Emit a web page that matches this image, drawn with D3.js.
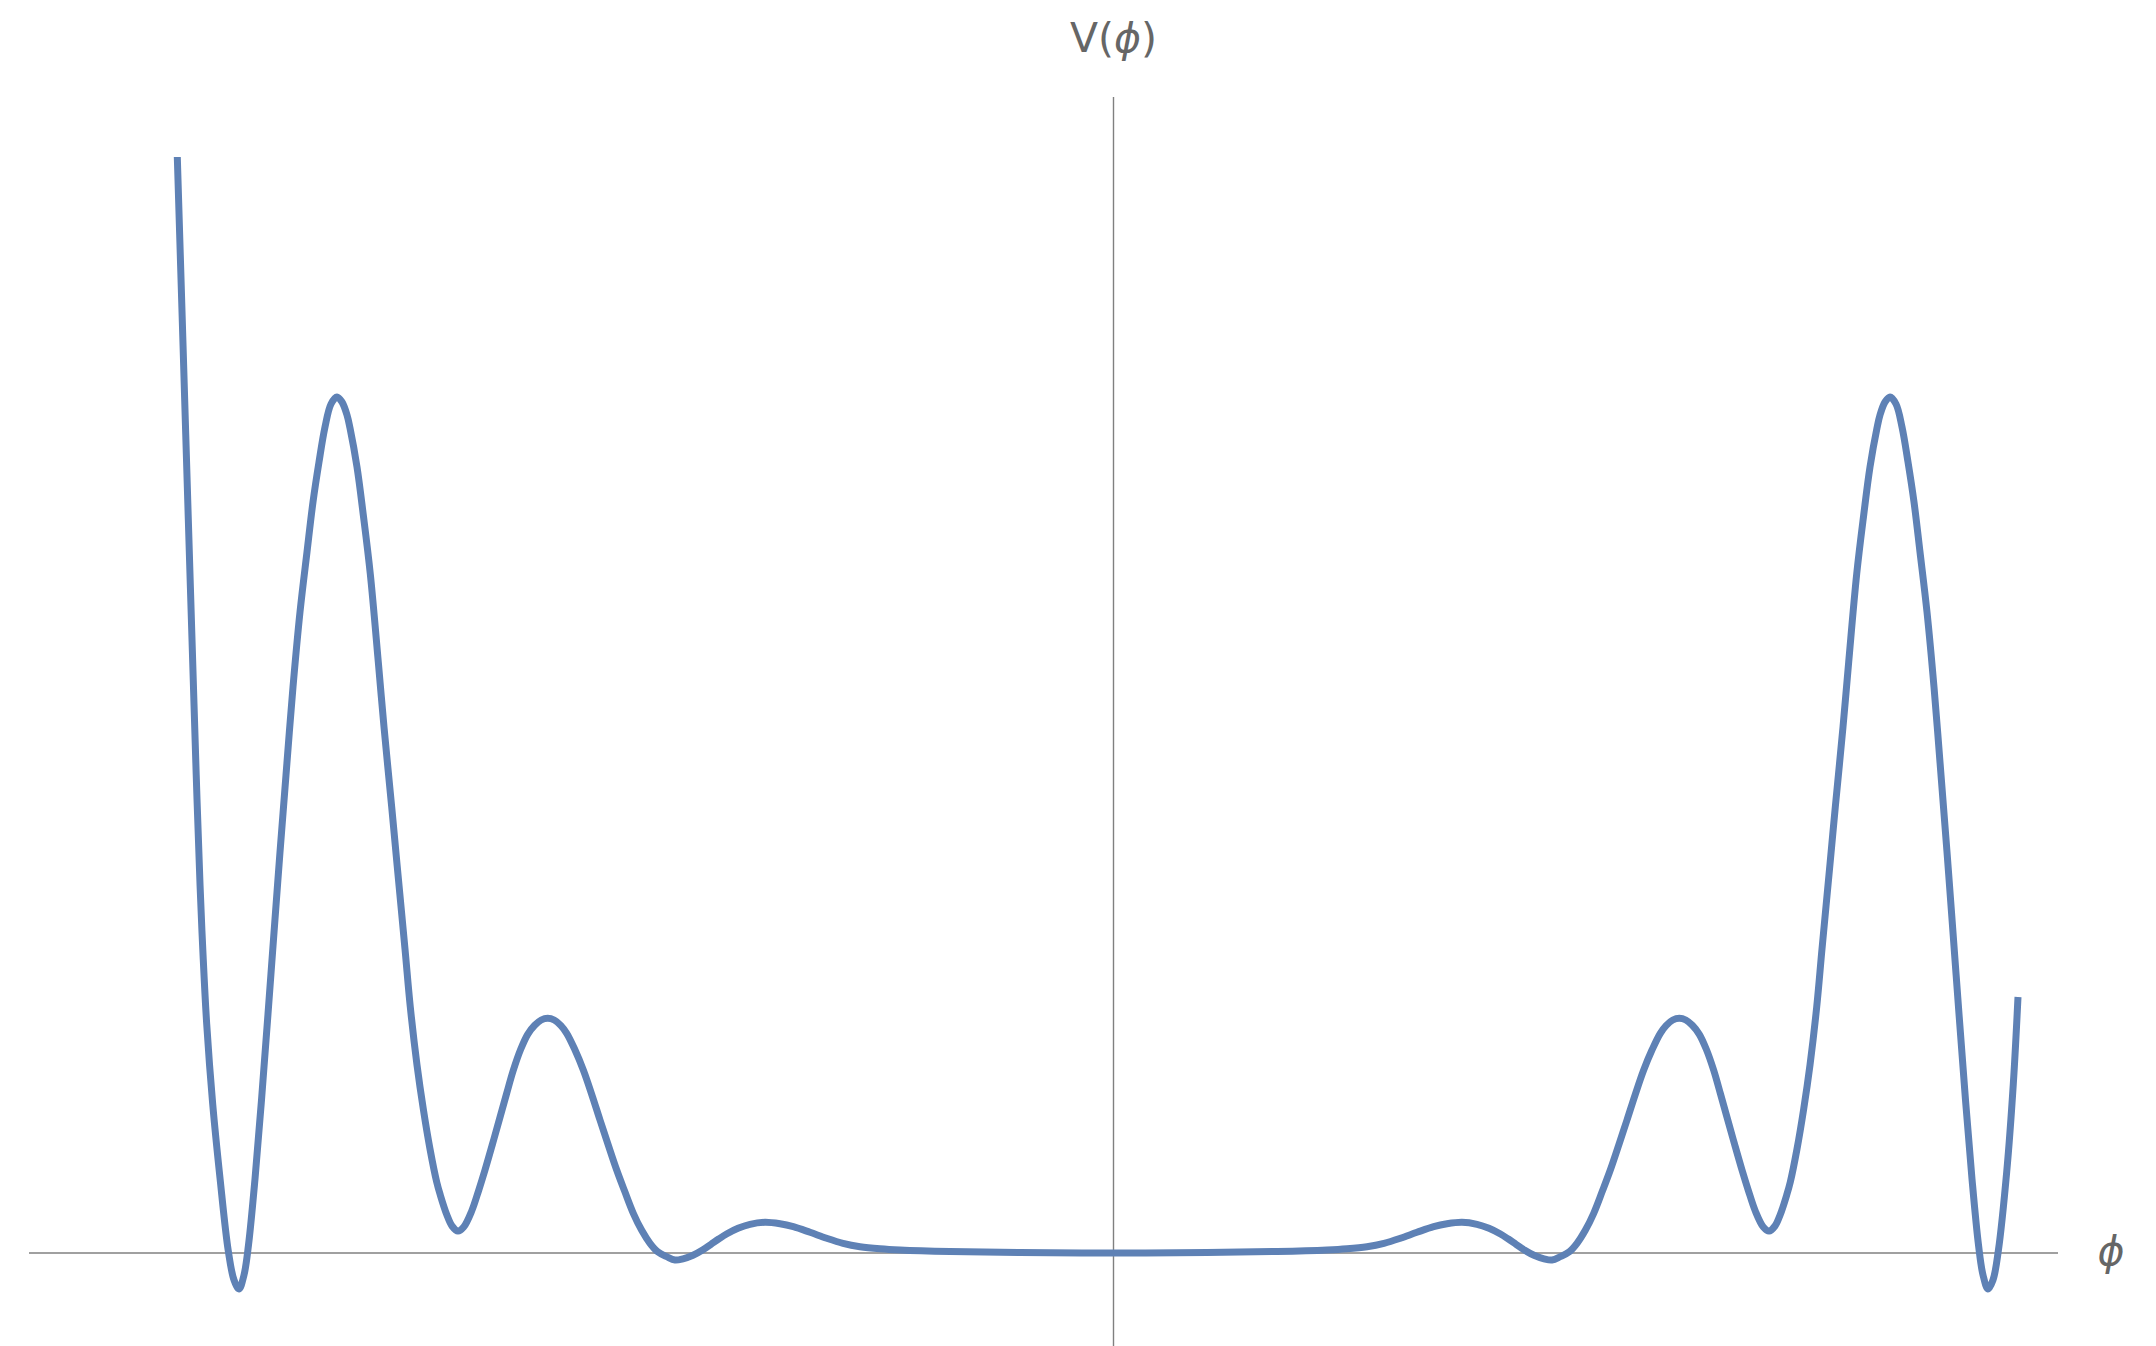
<!DOCTYPE html>
<html>
<head>
<meta charset="utf-8">
<script src="https://cdn.jsdelivr.net/npm/d3@7"></script>
<style>
  html, body { margin: 0; padding: 0; background: #ffffff; }
  svg { display: block; }
</style>
</head>
<body>
<script>
// ---- Data: phi and V(phi) ----
const phi = [
  -9.362, -9.305, -9.252, -9.195, -9.165, -9.135, -9.105, -9.068, -9.008, -8.935,
  -8.852, -8.795, -8.745, -8.695, -8.650, -8.585, -8.520, -8.455, -8.385, -8.335,
  -8.275, -8.205, -8.135, -8.065, -8.005, -7.945, -7.885, -7.825, -7.765, -7.715,
  -7.665, -7.635, -7.565, -7.502, -7.432, -7.352, -7.295, -7.218, -7.165, -7.085,
  -7.032, -6.965, -6.902, -6.835, -6.768, -6.732, -6.668, -6.615, -6.555, -6.498,
  -6.418, -6.348, -6.285, -6.208, -6.135, -6.068, -6.002, -5.928, -5.858, -5.788,
  -5.723, -5.658, -5.593, -5.528, -5.468, -5.388, -5.302, -5.218, -5.135, -5.058,
  -4.968, -4.888, -4.802, -4.718, -4.635, -4.558, -4.468, -4.385, -4.305, -4.205,
  -4.105, -4.025, -3.945, -3.865, -3.755, -3.635, -3.485, -3.335, -3.202, -3.035,
  -2.868, -2.705, -2.535, -2.335, -2.135, -1.635, -0.935,  0.000,
   0.935,  1.635,  2.135,  2.335,  2.535,  2.705,  2.868,  3.035,  3.202,  3.335,
   3.485,  3.635,  3.755,  3.865,  3.945,  4.025,  4.105,  4.205,  4.305,  4.385,
   4.468,  4.558,  4.635,  4.718,  4.802,  4.888,  4.968,  5.058,  5.135,  5.218,
   5.302,  5.388,  5.468,  5.528,  5.593,  5.658,  5.723,  5.788,  5.858,  5.928,
   6.002,  6.068,  6.135,  6.208,  6.285,  6.348,  6.418,  6.498,  6.555,  6.615,
   6.668,  6.732,  6.768,  6.835,  6.902,  6.965,  7.032,  7.085,  7.165,  7.218,
   7.295,  7.352,  7.432,  7.502,  7.565,  7.635,  7.665,  7.715,  7.765,  7.825,
   7.885,  7.945,  8.005,  8.065,  8.135,  8.205,  8.275,  8.335,  8.385,  8.455,
   8.520,  8.585,  8.650,  8.695,  8.745,  8.795,  8.848,  8.932,  8.998,  9.045
];
const V = [
  10.960, 9.090, 7.340, 5.490, 4.540, 3.690, 2.990, 2.290, 1.490, 0.750,
   0.020, -0.270, -0.360, -0.220, 0.080, 0.740, 1.530, 2.390, 3.340, 4.010,
   4.780, 5.660, 6.410, 7.010, 7.510, 7.910, 8.260, 8.490, 8.560, 8.510,
   8.380, 8.250, 7.860, 7.380, 6.790, 5.910, 5.260, 4.460, 3.890, 3.040,
   2.460, 1.880, 1.440, 1.040, 0.710, 0.580, 0.385, 0.270, 0.220, 0.260,
   0.420, 0.627, 0.830, 1.097, 1.357, 1.597, 1.827, 2.037, 2.187, 2.277,
   2.330, 2.347, 2.330, 2.277, 2.197, 2.037, 1.830, 1.587, 1.330, 1.097,
   0.830, 0.617, 0.397, 0.227, 0.097, 0.012, -0.037, -0.070, -0.058, -0.023,
   0.032, 0.087, 0.142, 0.192, 0.247, 0.287, 0.307, 0.292, 0.263, 0.207,
   0.147, 0.097, 0.063, 0.042, 0.030, 0.015, 0.005, 0.000,
   0.005, 0.015, 0.030, 0.042, 0.063, 0.097, 0.147, 0.207, 0.263, 0.292,
   0.307, 0.287, 0.247, 0.192, 0.142, 0.087, 0.032, -0.023, -0.058, -0.070,
  -0.037, 0.012, 0.097, 0.227, 0.397, 0.617, 0.830, 1.097, 1.330, 1.587,
   1.830, 2.037, 2.197, 2.277, 2.330, 2.347, 2.330, 2.277, 2.187, 2.037,
   1.827, 1.597, 1.357, 1.097, 0.830, 0.627, 0.420, 0.260, 0.220, 0.270,
   0.385, 0.580, 0.710, 1.040, 1.440, 1.880, 2.460, 3.040, 3.890, 4.460,
   5.260, 5.910, 6.790, 7.380, 7.860, 8.250, 8.380, 8.510, 8.560, 8.490,
   8.260, 7.910, 7.510, 7.010, 6.410, 5.660, 4.780, 4.010, 3.340, 2.390,
   1.530, 0.740, 0.080, -0.220, -0.360, -0.270, 0.020, 0.810, 1.690, 2.560
];
const axisLabels = { x: "\u03D5", yPre: "V(", yVar: "\u03D5", yPost: ")" };

// ---- Layout ----
const W = 2156, H = 1346;
const originX = 1113.5, originY = 1253, unit = 100;
const x = d3.scaleLinear().domain([0, 1]).range([originX, originX + unit]);
const y = d3.scaleLinear().domain([0, 1]).range([originY, originY - unit]);

const svg = d3.select("body").append("svg")
  .attr("width", W).attr("height", H)
  .attr("viewBox", `0 0 ${W} ${H}`);

const axisColor = "#808080";
const textColor = "#666666";

// horizontal axis (phi)
svg.append("line")
  .attr("x1", 29).attr("x2", 2058)
  .attr("y1", y(0)).attr("y2", y(0))
  .attr("stroke", axisColor).attr("stroke-width", 1.4);

// vertical axis (V)
svg.append("line")
  .attr("x1", x(0)).attr("x2", x(0))
  .attr("y1", 97).attr("y2", H)
  .attr("stroke", axisColor).attr("stroke-width", 1.4);

// curve
const pts = phi.map((p, i) => [p, V[i]]);
const line = d3.line()
  .x(d => x(d[0]))
  .y(d => y(d[1]))
  .curve(d3.curveCatmullRom.alpha(0.5));

svg.append("path")
  .datum(pts)
  .attr("d", line)
  .attr("fill", "none")
  .attr("stroke", "#5E81B5")
  .attr("stroke-width", 7)
  .attr("stroke-linejoin", "round")
  .attr("stroke-linecap", "butt");

// axis labels
const yLab = svg.append("text")
  .attr("x", x(0)).attr("y", 52)
  .attr("text-anchor", "middle")
  .attr("font-family", "'DejaVu Sans', sans-serif")
  .attr("font-size", 41)
  .attr("fill", textColor);
yLab.append("tspan").text(axisLabels.yPre);
yLab.append("tspan").attr("font-style", "italic").text(axisLabels.yVar);
yLab.append("tspan").text(axisLabels.yPost);

svg.append("text")
  .attr("x", 2111).attr("y", 1265)
  .attr("text-anchor", "middle")
  .attr("font-family", "'DejaVu Sans', sans-serif")
  .attr("font-style", "italic")
  .attr("font-size", 41)
  .attr("fill", textColor)
  .text(axisLabels.x);
</script>
</body>
</html>
